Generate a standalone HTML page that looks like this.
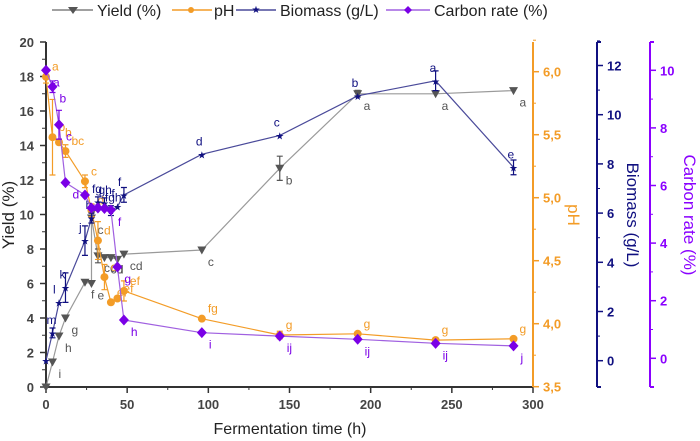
<!DOCTYPE html>
<html><head><meta charset="utf-8">
<style>
html,body{margin:0;padding:0;background:#fff;}
svg{display:block;font-family:"Liberation Sans",Arial,sans-serif;}
</style></head>
<body>
<svg id="chart" width="700" height="441" viewBox="0 0 700 441">
  <g id="legend">
    <g>
      <line x1="52" y1="10" x2="93" y2="10" stroke="#808080" stroke-width="1.5"/>
      <path d="M68,7 L78,7 L73,14 Z" fill="#555"/>
      <text x="97" y="16" font-size="16" fill="#222">Yield (%)</text>
    </g>
    <g>
      <line x1="172" y1="10" x2="212" y2="10" stroke="#f39c27" stroke-width="1.5"/>
      <circle cx="191" cy="10" r="3" fill="#f39c27"/>
      <text x="214" y="16" font-size="16" fill="#222">pH</text>
    </g>
    <g>
      <line x1="236" y1="10" x2="276" y2="10" stroke="#4a4a9a" stroke-width="1.5"/>
      <text x="256" y="13" font-size="10" fill="#101080" text-anchor="middle">★</text>
      <text x="280" y="16" font-size="16" fill="#222">Biomass (g/L)</text>
    </g>
    <g>
      <line x1="386" y1="10" x2="430" y2="10" stroke="#a060e0" stroke-width="1.5"/>
      <path d="M408,6 L412,10 L408,14 L404,10 Z" fill="#7a00e6"/>
      <text x="434" y="16" font-size="16" fill="#222">Carbon rate (%)</text>
    </g>
  </g>
  <g id="axes"></g>
  <g id="marks"></g>
</svg>
<script>
// ---- data ----
const yieldTimes = [0,4,8,12,24,28,28,32,36,40,44,48,96,144,192,240,288];
const yieldValues = [0,1.45,2.96,4.0,6.07,6.0,9.8,7.6,7.5,7.5,7.4,7.7,7.94,12.68,17.0,17.0,17.18];
const yieldErrors = [0,0,0,0,0,0,0.3,0.4,0,0,0,0,0,0.7,0.2,0,0];
const yieldLetters = ["","i","h","g","f","e","c","cd","cd","d","","cd","c","b","a","a","a"];

const phTimes = [0,4,8,12,24,28,32,36,40,44,48,96,144,192,240,288];
const phValues = [5.96,5.48,5.44,5.37,5.13,4.9,4.66,4.37,4.17,4.2,4.26,4.04,3.91,3.92,3.87,3.88];
const phErrors = [0.05,0.3,0,0.05,0.05,0.05,0.15,0.1,0,0,0.08,0,0.03,0,0,0];
const phLetters = ["a","b","b","bc","c","d","d","e","ef","ef","ef","fg","g","g","g","g"];

const bioTimes = [0,4,8,12,24,28,32,36,40,44,48,96,144,192,240,288];
const bioValues = [0,1.13,2.36,2.97,4.88,5.8,6.46,6.42,6.1,6.26,6.74,8.39,9.16,10.77,11.38,7.86];
const bioErrors = [0,0.2,0,0.6,0.6,0.2,0.2,0.2,0.2,0,0.3,0,0,0,0.4,0.3];
const bioLetters = ["","m","l","k","j","h","fg","gh","fgh","f","f","d","c","b","a","e"];

const carbTimes = [0,4,8,12,24,28,32,36,40,44,48,96,144,192,240,288];
const carbValues = [10.0,9.43,8.11,6.1,5.67,5.22,5.22,5.2,5.15,3.17,1.33,0.89,0.77,0.66,0.52,0.43];
const carbErrors = [0,0.2,0.5,0,0,0,0,0,0,0,0,0,0,0,0,0];
const carbLetters = ["a","b","c","d","e","","","","f","g","h","i","ij","ij","ij","j"];

const xTicks = [0,50,100,150,200,250,300];
const yieldTicks = [0,2,4,6,8,10,12,14,16,18,20];
const phTicks = ["3,5","4,0","4,5","5,0","5,5","6,0"];
const phTickVals = [3.5,4.0,4.5,5.0,5.5,6.0];
const bioTicks = [0,2,4,6,8,10,12];
const carbTicks = [0,2,4,6,8,10];

// ---- scales ----
const X = t => 46 + t*(487/300);
const Yy = v => 387 - v*17.25;
const Yph = v => 386.7 - (v-3.5)*126;
const Ybio = v => 360.7 - v*24.6;
const Ycarb = v => 358.3 - v*28.8;

const NS = "http://www.w3.org/2000/svg";
function mk(tag, attrs, parent, txt){
  const e = document.createElementNS(NS, tag);
  for (const k in attrs) e.setAttribute(k, attrs[k]);
  if (txt !== undefined) e.textContent = txt;
  parent.appendChild(e);
  return e;
}
const axes = document.getElementById('axes');
const marks = document.getElementById('marks');

// left axis
let g = mk('g', {}, axes);


mk('line', {x1:46,y1:42,x2:46,y2:387,stroke:'#333','stroke-width':2}, g);
yieldTicks.forEach(v => {
  mk('line', {x1:40,y1:Yy(v),x2:46,y2:Yy(v),stroke:'#333','stroke-width':1.5}, g);
  if (v<20) mk('line', {x1:42,y1:Yy(v+1),x2:46,y2:Yy(v+1),stroke:'#333','stroke-width':1}, g);
  const t = mk('text', {x:34,y:Yy(v)+5,'font-size':13,'font-weight':'bold',fill:'#444','text-anchor':'end'}, g, String(v));
  
  
});
let yt = mk('text', {x:0,y:0,'font-size':17,fill:'#222','text-anchor':'middle',transform:'translate(14,215) rotate(-90)'}, g, 'Yield (%)');



// x axis
g = mk('g', {}, axes);


mk('line', {x1:46,y1:387,x2:533,y2:387,stroke:'#333','stroke-width':2}, g);
xTicks.forEach(v => {
  mk('line', {x1:X(v),y1:387,x2:X(v),y2:393,stroke:'#333','stroke-width':1.5}, g);
  if (v<300) mk('line', {x1:X(v+25),y1:387,x2:X(v+25),y2:390,stroke:'#333','stroke-width':1}, g);
  const t = mk('text', {x:X(v),y:409,'font-size':13,'font-weight':'bold',fill:'#444','text-anchor':'middle'}, g, String(v));
  
  
});
let xt = mk('text', {x:290,y:434,'font-size':16,fill:'#222','text-anchor':'middle'}, g, 'Fermentation time (h)');



// pH axis
g = mk('g', {}, axes);


mk('line', {x1:533,y1:42,x2:533,y2:387,stroke:'#f39c27','stroke-width':2}, g);
phTickVals.forEach((v,i) => {
  mk('line', {x1:533,y1:Yph(v),x2:539,y2:Yph(v),stroke:'#f39c27','stroke-width':1.5}, g);
  mk('line', {x1:533,y1:Yph(v+0.25),x2:536,y2:Yph(v+0.25),stroke:'#f39c27','stroke-width':1}, g);
  const t = mk('text', {x:543,y:Yph(v)+5,'font-size':13,'font-weight':'bold',fill:'#f39c27'}, g, phTicks[i]);
  
  
});
let pt = mk('text', {x:0,y:0,'font-size':17,fill:'#f39c27','text-anchor':'middle',transform:'translate(568,215) rotate(90)'}, g, 'pH');



// biomass axis
g = mk('g', {}, axes);


mk('line', {x1:597,y1:42,x2:597,y2:387,stroke:'#101080','stroke-width':2}, g);
mk('line', {x1:597,y1:42,x2:601,y2:42,stroke:'#101080','stroke-width':2}, g);
mk('line', {x1:597,y1:387,x2:601,y2:387,stroke:'#101080','stroke-width':2}, g);
bioTicks.forEach(v => {
  mk('line', {x1:597,y1:Ybio(v),x2:603,y2:Ybio(v),stroke:'#101080','stroke-width':1.5}, g);
  mk('line', {x1:597,y1:Ybio(v+1),x2:600,y2:Ybio(v+1),stroke:'#101080','stroke-width':1}, g);
  const t = mk('text', {x:607,y:Ybio(v)+5,'font-size':13,'font-weight':'bold',fill:'#101080'}, g, String(v));
  
  
});
let bt = mk('text', {x:0,y:0,'font-size':17,fill:'#101080','text-anchor':'middle',transform:'translate(627,215) rotate(90)'}, g, 'Biomass (g/L)');



// carbon axis
g = mk('g', {}, axes);


mk('line', {x1:650,y1:42,x2:650,y2:387,stroke:'#8a00ff','stroke-width':2}, g);
mk('line', {x1:650,y1:42,x2:654,y2:42,stroke:'#8a00ff','stroke-width':2}, g);
mk('line', {x1:650,y1:387,x2:654,y2:387,stroke:'#8a00ff','stroke-width':2}, g);
carbTicks.forEach(v => {
  mk('line', {x1:650,y1:Ycarb(v),x2:656,y2:Ycarb(v),stroke:'#8a00ff','stroke-width':1.5}, g);
  mk('line', {x1:650,y1:Ycarb(v+1),x2:653,y2:Ycarb(v+1),stroke:'#8a00ff','stroke-width':1}, g);
  const t = mk('text', {x:660,y:Ycarb(v)+5,'font-size':13,'font-weight':'bold',fill:'#8a00ff'}, g, String(v));
  
  
});
let ct = mk('text', {x:0,y:0,'font-size':17,fill:'#8a00ff','text-anchor':'middle',transform:'translate(684,215) rotate(90)'}, g, 'Carbon rate (%)');



// ---- series ----
function series(name, times, vals, errs, letters, ys, lineColor, markColor, shape, lx, ly){
  const sg = mk('g', {}, marks);
  
  
  const pts = times.map((t,i) => X(t).toFixed(1) + ',' + ys(vals[i]).toFixed(1)).join(' ');
  const pl = mk('polyline', {points:pts,fill:'none',stroke:lineColor,'stroke-width':1.2}, sg);
  
  
  times.forEach((t,i) => {
    const x = X(t), y = ys(vals[i]);
    if (errs[i] > 0) {
      const y1 = ys(vals[i]+errs[i]), y2 = ys(vals[i]-errs[i]);
      const eb = mk('path', {d:`M${x},${y1} L${x},${y2} M${x-3},${y1} L${x+3},${y1} M${x-3},${y2} L${x+3},${y2}`,stroke:markColor,'stroke-width':1.2,fill:'none'}, sg);
      
      
    }
    let m;
    if (shape === 'tri') m = mk('path', {d:`M${x-4.5},${y-3.5} L${x+4.5},${y-3.5} L${x},${y+4.5} Z`,fill:markColor}, sg);
    else if (shape === 'circ') m = mk('circle', {cx:x,cy:y,r:4,fill:markColor}, sg);
    else if (shape === 'dia') m = mk('path', {d:`M${x},${y-5.5} L${x+5},${y} L${x},${y+5.5} L${x-5},${y} Z`,fill:markColor}, sg);
    else m = mk('text', {x:x,y:y+4,'font-size':10,fill:markColor,'text-anchor':'middle'}, sg, '★');
    
    
    if (letters[i]) {
      const lt = mk('text', {x:x+lx,y:y+ly,'font-size':12,fill:markColor}, sg, letters[i]);
      
      
    }
  });
}
series('yield', yieldTimes, yieldValues, yieldErrors, yieldLetters, Yy, '#9a9a9a', '#555', 'tri', 6, 16);
series('ph', phTimes, phValues, phErrors, phLetters, Yph, '#f39c27', '#f39c27', 'circ', 6, -6);
series('biomass', bioTimes, bioValues, bioErrors, bioLetters, Ybio, '#4a4a9a', '#101080', 'star', -6, -9);
series('carbon-rate', carbTimes, carbValues, carbErrors, carbLetters, Ycarb, '#a060e0', '#7a00e6', 'dia', 7, 16);
</script>
</body></html>
